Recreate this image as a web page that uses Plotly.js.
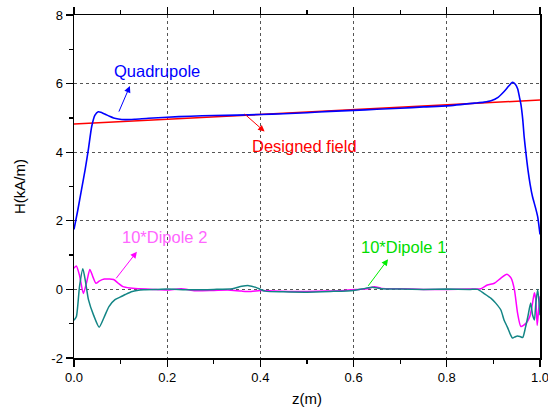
<!DOCTYPE html>
<html>
<head>
<meta charset="utf-8">
<script src="https://cdn.plot.ly/plotly-3.0.1.min.js"></script>
<style>html,body{margin:0;padding:0;background:#fff;}</style>
</head>
<body>
<div id="chart" style="width:548px;height:412px;"></div>
<script>
// Designed field
const designZ = [0, 0.2, 0.4, 0.6, 0.8, 1.0];
const designH = [4.82, 4.96, 5.10, 5.24, 5.38, 5.52];

// Quadrupole
const quadZ = [0, 0.008, 0.016, 0.024, 0.031, 0.038, 0.045, 0.052, 0.06, 0.068, 0.076, 0.085, 0.095, 0.11, 0.13, 0.16, 0.2, 0.25, 0.3, 0.35, 0.4, 0.45, 0.5, 0.55, 0.6, 0.65, 0.7, 0.75, 0.8, 0.86, 0.88, 0.895, 0.91, 0.923, 0.933, 0.941, 0.947, 0.952, 0.956, 0.959, 0.963, 0.966, 0.97, 0.974, 0.979, 0.984, 0.99, 0.995, 1.0];
const quadH = [1.75, 2.3, 2.9, 3.5, 4.1, 4.75, 5.08, 5.18, 5.15, 5.1, 5.05, 5.0, 4.97, 4.95, 4.96, 4.99, 5.02, 5.05, 5.07, 5.08, 5.10, 5.12, 5.15, 5.19, 5.22, 5.25, 5.28, 5.32, 5.35, 5.43, 5.46, 5.5, 5.6, 5.77, 5.93, 6.04, 5.98, 5.85, 5.6, 5.4, 4.95, 4.45, 3.95, 3.5, 3.05, 2.7, 2.4, 2.12, 1.6];

// 10*Dipole 2
const dip2Z = [0, 0.005, 0.012, 0.02, 0.027, 0.034, 0.041, 0.047, 0.055, 0.065, 0.075, 0.085, 0.095, 0.105, 0.12, 0.14, 0.17, 0.2, 0.23, 0.26, 0.3, 0.33, 0.36, 0.38, 0.4, 0.43, 0.46, 0.5, 0.54, 0.58, 0.61, 0.63, 0.645, 0.66, 0.7, 0.75, 0.8, 0.85, 0.873, 0.887, 0.902, 0.916, 0.929, 0.938, 0.945, 0.952, 0.959, 0.97, 0.978, 0.984, 0.988, 0.991, 0.994, 0.997, 1.0];
const dip2H = [0.62, 0.68, 0.4, -0.12, 0.2, 0.58, 0.35, 0.18, 0.25, 0.3, 0.3, 0.29, 0.18, 0.08, 0.04, 0.02, 0.0, -0.02, 0.02, -0.04, -0.03, -0.02, -0.05, -0.06, -0.03, -0.05, -0.06, -0.06, -0.05, -0.03, 0.0, 0.02, 0.08, 0.03, 0.02, 0.0, 0.0, 0.01, 0.02, 0.13, 0.18, 0.33, 0.44, 0.33, 0.0, -0.7, -1.08, -0.99, -0.8, -0.4, -0.1, -0.3, -1.05, -0.6, -0.2];

// 10*Dipole 1
const dip1Z = [0, 0.005, 0.012, 0.019, 0.025, 0.031, 0.042, 0.054, 0.065, 0.075, 0.088, 0.1, 0.11, 0.125, 0.15, 0.18, 0.2, 0.25, 0.3, 0.34, 0.36, 0.375, 0.39, 0.41, 0.45, 0.5, 0.55, 0.6, 0.625, 0.64, 0.66, 0.7, 0.75, 0.8, 0.85, 0.866, 0.88, 0.895, 0.905, 0.916, 0.923, 0.93, 0.936, 0.941, 0.947, 0.952, 0.958, 0.963, 0.969, 0.974, 0.98, 0.984, 0.988, 0.991, 0.995, 0.998, 1.0];
const dip1H = [-0.9, -0.8, 0.1, 0.6, 0.2, -0.3, -0.75, -1.1, -0.8, -0.5, -0.3, -0.22, -0.15, -0.06, -0.01, 0.0, 0.01, -0.01, 0.0, 0.02, 0.09, 0.11, 0.06, -0.05, -0.07, -0.08, -0.06, -0.03, 0.03, 0.06, 0.02, 0.01, 0.0, 0.01, 0.0, 0.0, -0.12, -0.26, -0.4, -0.6, -0.9, -1.1, -1.3, -1.42, -1.38, -1.36, -1.38, -1.4, -1.1, -0.79, -0.4, -0.74, -0.89, -0.4, 0.0, -0.4, -0.75];

const xTicks = [0, 0.2, 0.4, 0.6, 0.8, 1.0];
const xTickText = ['0.0', '0.2', '0.4', '0.6', '0.8', '1.0'];
const yTicks = [-2, 0, 2, 4, 6, 8];
const yTickText = ['-2', '0', '2', '4', '6', '8'];

const FONT = 'Liberation Sans, Arial, sans-serif';

const traces = [
  {x: designZ, y: designH, type: 'scatter', mode: 'lines', line: {color: '#ff0000', width: 1.5}, name: 'Designed field'},
  {x: quadZ, y: quadH, type: 'scatter', mode: 'lines', line: {color: '#0000ff', width: 1.6, shape: 'spline', smoothing: 0.6}, name: 'Quadrupole'},
  {x: dip2Z, y: dip2H, type: 'scatter', mode: 'lines', line: {color: '#ff00ff', width: 1.5, shape: 'spline', smoothing: 0.6}, name: '10*Dipole 2'},
  {x: dip1Z, y: dip1H, type: 'scatter', mode: 'lines', line: {color: '#138585', width: 1.5, shape: 'spline', smoothing: 0.6}, name: '10*Dipole 1'}
];

function arrow(x, y, ax, ay, color) {
  return {x: x, y: y, ax: ax, ay: ay, xref: 'x', yref: 'y', axref: 'x', ayref: 'y',
          text: '', showarrow: true, arrowhead: 2, arrowsize: 1.3, arrowwidth: 1, arrowcolor: color};
}
function label(x, y, text, color) {
  return {x: x, y: y, xref: 'x', yref: 'y', text: text, showarrow: false,
          font: {family: FONT, size: 16.5, color: color}};
}

const layout = {
  width: 548, height: 412,
  margin: {l: 74, r: 8, t: 15, b: 54},
  paper_bgcolor: '#ffffff', plot_bgcolor: '#ffffff',
  showlegend: false,
  font: {family: FONT, color: '#000000', size: 13},
  xaxis: {
    range: [0, 1], tickvals: xTicks, ticktext: xTickText,
    ticks: 'outside', ticklen: 7, tickwidth: 1.3, tickcolor: '#000',
    showline: true, linecolor: '#000', linewidth: 1.5, mirror: 'allticks',
    showgrid: true, gridcolor: '#555', griddash: 'dot', gridwidth: 1,
    zeroline: false, ticklabeloverflow: 'allow',
    minor: {ticks: 'outside', dtick: 0.1, tick0: 0, ticklen: 4, tickwidth: 1.3, tickcolor: '#000', showgrid: false},
    tickfont: {size: 13, family: FONT},
    title: {text: 'z(m)', font: {size: 15, family: FONT}, standoff: 9}
  },
  yaxis: {
    range: [-2, 8], tickvals: yTicks, ticktext: yTickText,
    ticks: 'outside', ticklen: 7, tickwidth: 1.3, tickcolor: '#000',
    showline: true, linecolor: '#000', linewidth: 1.5, mirror: true,
    showgrid: true, gridcolor: '#555', griddash: 'dot', gridwidth: 1,
    zeroline: false, ticklabeloverflow: 'allow',
    minor: {ticks: 'outside', dtick: 1, tick0: 0, ticklen: 4, tickwidth: 1.3, tickcolor: '#000', showgrid: false},
    tickfont: {size: 13, family: FONT},
    title: {text: 'H(kA/m)', font: {size: 15, family: FONT}, standoff: 22}
  },
  annotations: [
    arrow(0.120, 5.93, 0.095, 5.14, '#0000ff'),
    arrow(0.409, 4.60, 0.363, 5.15, '#ff0000'),
    arrow(0.135, 1.10, 0.088, 0.28, '#ff00ff'),
    arrow(0.674, 0.88, 0.629, 0.06, '#00ee00'),
    label(0.178, 6.37, 'Quadrupole', '#0000ff'),
    label(0.495, 4.18, 'Designed field', '#ff0000'),
    label(0.194, 1.54, '10*Dipole 2', '#ff66ff'),
    label(0.706, 1.23, '10*Dipole 1', '#00dd00')
  ]
};

Plotly.newPlot('chart', traces, layout, {displayModeBar: false, staticPlot: true});
</script>
</body>
</html>
